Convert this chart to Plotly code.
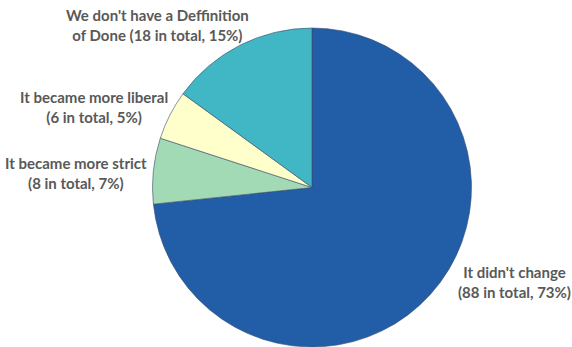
import plotly.graph_objects as go

categories = ["It didn't change", "It became more strict", "It became more liberal",
              "We don't have a Deffinition<br>of Done"]
counts = [88, 8, 6, 18]
colors = ["#225ea8", "#a1dab4", "#ffffcc", "#41b6c4"]

W, H = 572, 347
total = sum(counts)

fig = go.Figure(go.Pie(
    labels=categories,
    values=counts,
    sort=False,
    direction="clockwise",
    rotation=0,
    marker=dict(colors=colors, line=dict(color="#3a4a6a", width=0.6)),
    textinfo="none",
    hoverinfo="label+value+percent",
    domain=dict(x=[152 / W, 472 / W], y=[0, 1 - 28 / H]),
    showlegend=False,
))

# label anchor positions (pixels from top-left), layout only
label_pos = [(514, 282), (76, 173), (94, 107), (157, 25)]
annotations = []
for cat, n, (px, py) in zip(categories, counts, label_pos):
    pct = round(100 * n / total)
    if "<br>" in cat:
        txt = f"<b>{cat} ({n} in total, {pct}%)</b>"
    else:
        txt = f"<b>{cat}<br>({n} in total, {pct}%)</b>"
    annotations.append(dict(
        x=px / W, y=1 - py / H, xref="paper", yref="paper",
        text=txt,
        showarrow=False, align="center", xanchor="center", yanchor="middle",
        font=dict(family="Lato", size=15, color="#595959"),
    ))

fig.update_layout(
    width=W, height=H,
    margin=dict(l=0, r=0, t=0, b=0),
    paper_bgcolor="white",
    plot_bgcolor="white",
    annotations=annotations,
)

fig.write_html("out.html")
